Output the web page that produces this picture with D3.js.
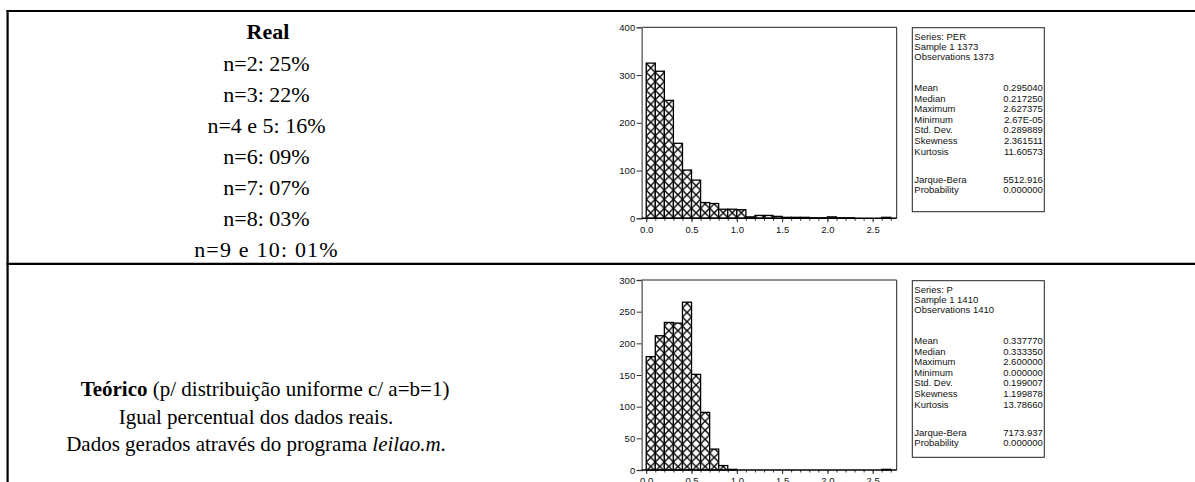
<!DOCTYPE html>
<html>
<head>
<meta charset="utf-8">
<script src="https://cdn.jsdelivr.net/npm/d3@7"></script>
<style>
  html, body { margin: 0; padding: 0; background: #fff; }
  svg { display: block; }
</style>
</head>
<body>
<svg id="chart" width="1195" height="482"></svg>
<script>
// ---------------- DATA ----------------
const binStarts = [0.0, 0.1, 0.2, 0.3, 0.4, 0.5, 0.6, 0.7, 0.8, 0.9, 1.0, 1.1, 1.2, 1.3, 1.4,
                   1.5, 1.6, 1.7, 1.8, 1.9, 2.0, 2.1, 2.2, 2.3, 2.4, 2.5, 2.6];
const binWidth = 0.1;
const realCounts = [325, 308, 247, 157, 101, 80, 33, 31, 19, 19, 18, 3, 6, 6, 4,
                    2, 2, 2, 1, 1, 3, 1, 1, 0, 0, 0, 2];
const theoCounts = [179, 212, 233, 232, 265, 151, 91, 33, 7, 1, 0, 0, 0, 0, 0,
                    0, 0, 0, 0, 0, 0, 0, 0, 0, 0, 0, 1];
const xTickValues = [0.0, 0.5, 1.0, 1.5, 2.0, 2.5];
const realYTicks = [0, 100, 200, 300, 400];
const theoYTicks = [0, 50, 100, 150, 200, 250, 300];

const statLabels = ["Mean", "Median", "Maximum", "Minimum", "Std. Dev.", "Skewness", "Kurtosis"];
const realHeader = ["Series: PER", "Sample 1 1373", "Observations 1373"];
const realStats = ["0.295040", "0.217250", "2.627375", "2.67E-05", "0.289889", "2.361511", "11.60573"];
const realJB = ["5512.916", "0.000000"];
const theoHeader = ["Series: P", "Sample 1 1410", "Observations 1410"];
const theoStats = ["0.337770", "0.333350", "2.600000", "0.000000", "0.199007", "1.199878", "13.78660"];
const theoJB = ["7173.937", "0.000000"];
const jbLabels = ["Jarque-Bera", "Probability"];

const realLines = ["n=2: 25%", "n=3: 22%", "n=4 e 5: 16%", "n=6: 09%", "n=7: 07%", "n=8: 03%", "n=9 e 10: 01%"];

// ---------------- DRAW ----------------
const svg = d3.select("#chart");
svg.append("rect").attr("width", 1195).attr("height", 482).attr("fill", "#fff");

const sans = "'Liberation Sans', Arial, sans-serif";
const serif = "'Liberation Serif', 'Times New Roman', serif";

// table lines
const tbl = svg.append("g").attr("stroke", "#000").attr("stroke-width", 2.2);
tbl.append("line").attr("x1", 6.5).attr("x2", 1195).attr("y1", 11).attr("y2", 11);
tbl.append("line").attr("x1", 6.5).attr("x2", 1195).attr("y1", 263.8).attr("y2", 263.8);
tbl.append("line").attr("x1", 7.6).attr("x2", 7.6).attr("y1", 10).attr("y2", 482);

// left texts
const leftX = 266.5;
svg.append("text").attr("x", 268).attr("y", 39).attr("text-anchor", "middle")
  .attr("font-family", serif).attr("font-size", 22).attr("font-weight", "bold").text("Real");
svg.append("g").selectAll("text").data(realLines).join("text")
  .attr("x", leftX).attr("y", (d, i) => 70.5 + i * 31)
  .attr("text-anchor", "middle").attr("font-family", serif).attr("font-size", 22)
  .attr("letter-spacing", (d, i) => i === realLines.length - 1 ? 1.2 : 0)
  .text(d => d);

const t1 = svg.append("text").attr("x", 265).attr("y", 395.5).attr("text-anchor", "middle")
  .attr("font-family", serif).attr("font-size", 21);
t1.append("tspan").attr("font-weight", "bold").text("Teórico");
t1.append("tspan").text(" (p/ distribuição uniforme c/ a=b=1)");
svg.append("text").attr("x", 256).attr("y", 423.5).attr("text-anchor", "middle")
  .attr("font-family", serif).attr("font-size", 21).text("Igual percentual dos dados reais.");
const t3 = svg.append("text").attr("x", 256).attr("y", 450.5).attr("text-anchor", "middle")
  .attr("font-family", serif).attr("font-size", 21);
t3.append("tspan").text("Dados gerados através do programa ");
t3.append("tspan").attr("font-style", "italic").text("leilao.m");
t3.append("tspan").text(".");

// shared x scale
const x = d3.scaleLinear().domain([-0.05, 2.765]).range([641.7, 896.7]);
const bw = x(binWidth) - x(0);

// hatch pattern
const defs = svg.append("defs");
const pat = defs.append("pattern").attr("id", "hatch").attr("patternUnits", "userSpaceOnUse")
  .attr("x", x(0)).attr("y", 0).attr("width", bw).attr("height", bw);
pat.append("rect").attr("width", bw).attr("height", bw).attr("fill", "#fff");
pat.append("path").attr("d", `M0,0L${bw},${bw}M${bw},0L0,${bw}`)
  .attr("stroke", "#000").attr("stroke-width", 1.4);

function panel(counts, yMax, yTicks, top, bottom, box, header, stats, jb) {
  const y = d3.scaleLinear().domain([0, yMax]).range([bottom, top]);
  const g = svg.append("g");

  // frame top / right
  g.append("path").attr("d", `M${x.range()[0]},${top}H${x.range()[1]}V${bottom}`)
    .attr("fill", "none").attr("stroke", "#222").attr("stroke-width", 1);

  // bars
  g.append("g").selectAll("rect").data(binStarts.map((b, i) => ({ b, c: counts[i] })).filter(d => d.c > 0))
    .join("rect")
    .attr("x", d => x(d.b)).attr("width", bw)
    .attr("y", d => y(d.c)).attr("height", d => y(0) - y(d.c))
    .attr("fill", "url(#hatch)").attr("stroke", "#000").attr("stroke-width", 1.3);

  // y axis
  const ya = g.append("g").attr("transform", `translate(${x.range()[0]},0)`)
    .call(d3.axisLeft(y).tickValues(yTicks).tickSize(5).tickPadding(1.5).tickFormat(d3.format("d")));
  ya.select(".domain").attr("stroke", "#777").attr("stroke-width", 1.6);
  ya.selectAll(".tick line").attr("stroke", "#333");
  ya.selectAll("text").attr("font-family", sans).attr("font-size", 9.5).attr("fill", "#111");

  // x axis minor ticks
  const xm = g.append("g").attr("transform", `translate(0,${bottom})`)
    .call(d3.axisBottom(x).ticks(30).tickSize(2.5).tickFormat(""));
  xm.select(".domain").remove();
  xm.selectAll(".tick line").attr("stroke", "#333");
  // x axis major
  const xa = g.append("g").attr("transform", `translate(0,${bottom})`)
    .call(d3.axisBottom(x).tickValues(xTickValues).tickSize(4).tickPadding(3.5).tickFormat(d3.format(".1f")));
  xa.select(".domain").attr("d", `M${x.range()[0]},0H${x.range()[1]}`).attr("stroke", "#000").attr("stroke-width", 1.6);
  xa.selectAll(".tick line").attr("stroke", "#333");
  xa.selectAll("text").attr("font-family", sans).attr("font-size", 9.5).attr("fill", "#111");

  // stats box
  const bx = g.append("g").attr("font-family", sans).attr("font-size", 9.5).attr("fill", "#111");
  bx.append("rect").attr("x", box.x0).attr("y", box.y0).attr("width", box.x1 - box.x0).attr("height", box.y1 - box.y0)
    .attr("fill", "#fff").attr("stroke", "#222").attr("stroke-width", 1);
  const lx = box.x0 + 2, rx = box.x1 - 1.5;
  header.forEach((h, i) => {
    bx.append("text").attr("x", lx).attr("y", box.y0 + 12.3 + i * 9.8).text(h);
  });
  statLabels.forEach((s, i) => {
    const yy = box.y0 + 63.3 + i * 10.6;
    bx.append("text").attr("x", lx).attr("y", yy).text(s);
    bx.append("text").attr("x", rx).attr("y", yy).attr("text-anchor", "end").text(stats[i]);
  });
  jbLabels.forEach((s, i) => {
    const yy = box.y0 + 155 + i * 10;
    bx.append("text").attr("x", lx).attr("y", yy).text(s);
    bx.append("text").attr("x", rx).attr("y", yy).attr("text-anchor", "end").text(jb[i]);
  });
}

panel(realCounts, 400, realYTicks, 27.3, 218.3,
  { x0: 912.3, x1: 1044.3, y0: 27.7, y1: 211.7 }, realHeader, realStats, realJB);
panel(theoCounts, 300, theoYTicks, 280, 470,
  { x0: 912.3, x1: 1044.3, y0: 280.7, y1: 457.3 }, theoHeader, theoStats, theoJB);
</script>
</body>
</html>
